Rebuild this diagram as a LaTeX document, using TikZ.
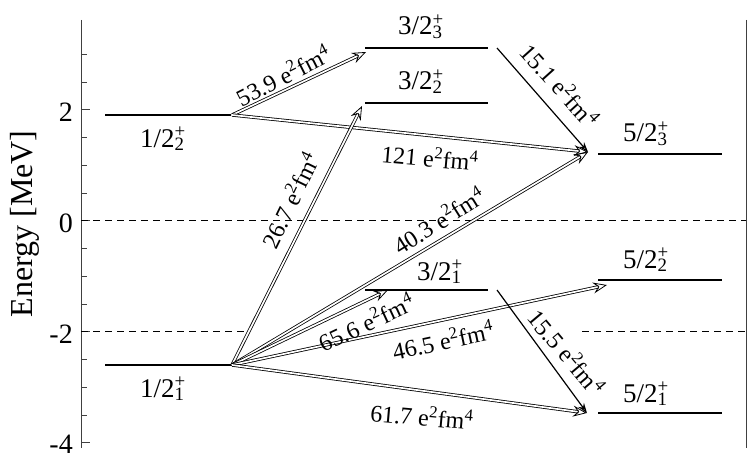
\documentclass[tikz,border=0pt]{standalone}
\usepackage{fontspec}
\setmainfont{Liberation Serif}
\usetikzlibrary{arrows.meta}
\newcommand\lv[2]{#1/2\rlap{\textsuperscript{+}}\textsubscript{#2}}
\newcommand\ef[1]{#1 e\textsuperscript{2}fm\textsuperscript{4}}
\begin{document}
\begin{tikzpicture}[x=1pt,y=-1pt,
  level/.style={line width=1.7pt},
  dbl/.style={double, double distance=1.7pt, line width=0.8pt,
    -{Stealth[open, length=14pt, width=11pt, inset=5pt, line width=0.8pt]}},
  sgl/.style={line width=1.2pt, -{Stealth[open,length=10pt,width=7pt]}},
  tlab/.style={font=\fontsize{24}{24}\selectfont, inner sep=0pt},
  llab/.style={font=\fontsize{27}{27}\selectfont, inner sep=0pt, anchor=base west},
  ticklab/.style={font=\fontsize{28}{28}\selectfont, anchor=east, inner sep=0pt},
  refline/.style={dash pattern=on 7pt off 5pt, line width=0.9pt}]
\useasboundingbox (0,0) rectangle (748,460);
% axis
\coordinate (axT) at (81,20);
\coordinate (axB) at (81,448);
\draw[line width=1pt, black!75] (axT) -- (axB);
\foreach \e in {-4,-3.5,...,3} {
  \draw[line width=1pt, black!75] (81,220.8-55.5*\e) -- ++(6,0);
}
\foreach \e in {-4,-2,0,2} {
  \draw[line width=1pt, black!75] (81,220.8-55.5*\e) -- ++(9,0);
}
\node[ticklab] (t2) at (73,112) {2};
\node[ticklab] (t0) at (73,223) {0};
\node[ticklab] (tm2) at (73,334) {-2};
\node[ticklab] (tm4) at (73,444) {-4};
\node[rotate=90, font=\fontsize{32}{32}\selectfont, inner sep=0pt] (elab) at (25,224) {Energy [MeV]};
% right frame
\coordinate (rT) at (746.5,20);
\coordinate (rB) at (746.5,448);
\draw[line width=1pt, black!75] (rT) -- (rB);
% dashed reference lines
\coordinate (d0a) at (81,220.8);
\coordinate (d0b) at (746,220.8);
\draw[refline] (d0a) -- (d0b);
\coordinate (d2a) at (81,331.8);
\coordinate (d2b) at (245,331.8);
\coordinate (d2c) at (582,331.8);
\coordinate (d2d) at (746,331.8);
\draw[refline] (d2a) -- (d2b);
\draw[refline] (d2c) -- (d2d);
% levels
\coordinate (L12a) at (105,115); \coordinate (L12b) at (231,115);
\coordinate (L11a) at (105,365); \coordinate (L11b) at (232,365);
\coordinate (L33a) at (365,48);  \coordinate (L33b) at (488,48);
\coordinate (L32a) at (365,103); \coordinate (L32b) at (488,103);
\coordinate (L31a) at (365,290); \coordinate (L31b) at (488,290);
\coordinate (L53a) at (598,154); \coordinate (L53b) at (722,154);
\coordinate (L52a) at (598,280); \coordinate (L52b) at (722,280);
\coordinate (L51a) at (598,413); \coordinate (L51b) at (722,413);
\foreach \l in {L12,L11,L33,L32,L31,L53,L52,L51} {
  \draw[level] (\l a) -- (\l b);
}
% level labels
\node[llab] (n12) at (140,147) {\lv{1}{2}};
\node[llab] (n11) at (140,397) {\lv{1}{1}};
\node[llab] (n33) at (398,35) {\lv{3}{3}};
\node[llab] (n32) at (398,90) {\lv{3}{2}};
\node[llab] (n31) at (417,280) {\lv{3}{1}};
\node[llab] (n53) at (623,142) {\lv{5}{3}};
\node[llab] (n52) at (623,268) {\lv{5}{2}};
\node[llab] (n51) at (623,402) {\lv{5}{1}};
% arrow end points
\coordinate (s12) at (232,115);
\coordinate (s11) at (232,365);
\coordinate (e33) at (366,52);
\coordinate (e53) at (588,152);
\coordinate (e32) at (362,106);
\coordinate (e31) at (388,290);
\coordinate (e52) at (607,285);
\coordinate (e51) at (587,413);
\coordinate (s33) at (497,48);
\coordinate (s31) at (497,290);
% transitions
\draw[dbl] (s12) -- (e33);
\draw[dbl] (s12) -- (e53);
\draw[dbl] (s11) -- (e32);
\draw[dbl] (s11) -- (e53);
\draw[dbl] (s11) -- (e31);
\draw[dbl] (s11) -- (e52);
\draw[dbl] (s11) -- (e51);
\draw[sgl] (s33) -- (e53);
\draw[sgl] (s31) -- (e51);
% transition labels
\node[tlab, rotate=27] (b1) at (283,75) {\ef{53.9}};
\node[tlab, rotate=-5] (b2) at (430,157) {\ef{121}};
\node[tlab, rotate=64] (b3) at (290,200) {\ef{26.7}};
\node[tlab, rotate=32] (b4) at (439,220) {\ef{40.3}};
\node[tlab, rotate=25] (b5) at (366,322) {\ef{65.6}};
\node[tlab, rotate=12] (b6) at (443,340) {\ef{46.5}};
\node[tlab, rotate=-5] (b7) at (422,416) {\ef{61.7}};
\node[tlab, rotate=-48] (b8) at (560,85) {\ef{15.1}};
\node[tlab, rotate=-50] (b9) at (567,352) {\ef{15.5}};
\end{tikzpicture}
\end{document}
